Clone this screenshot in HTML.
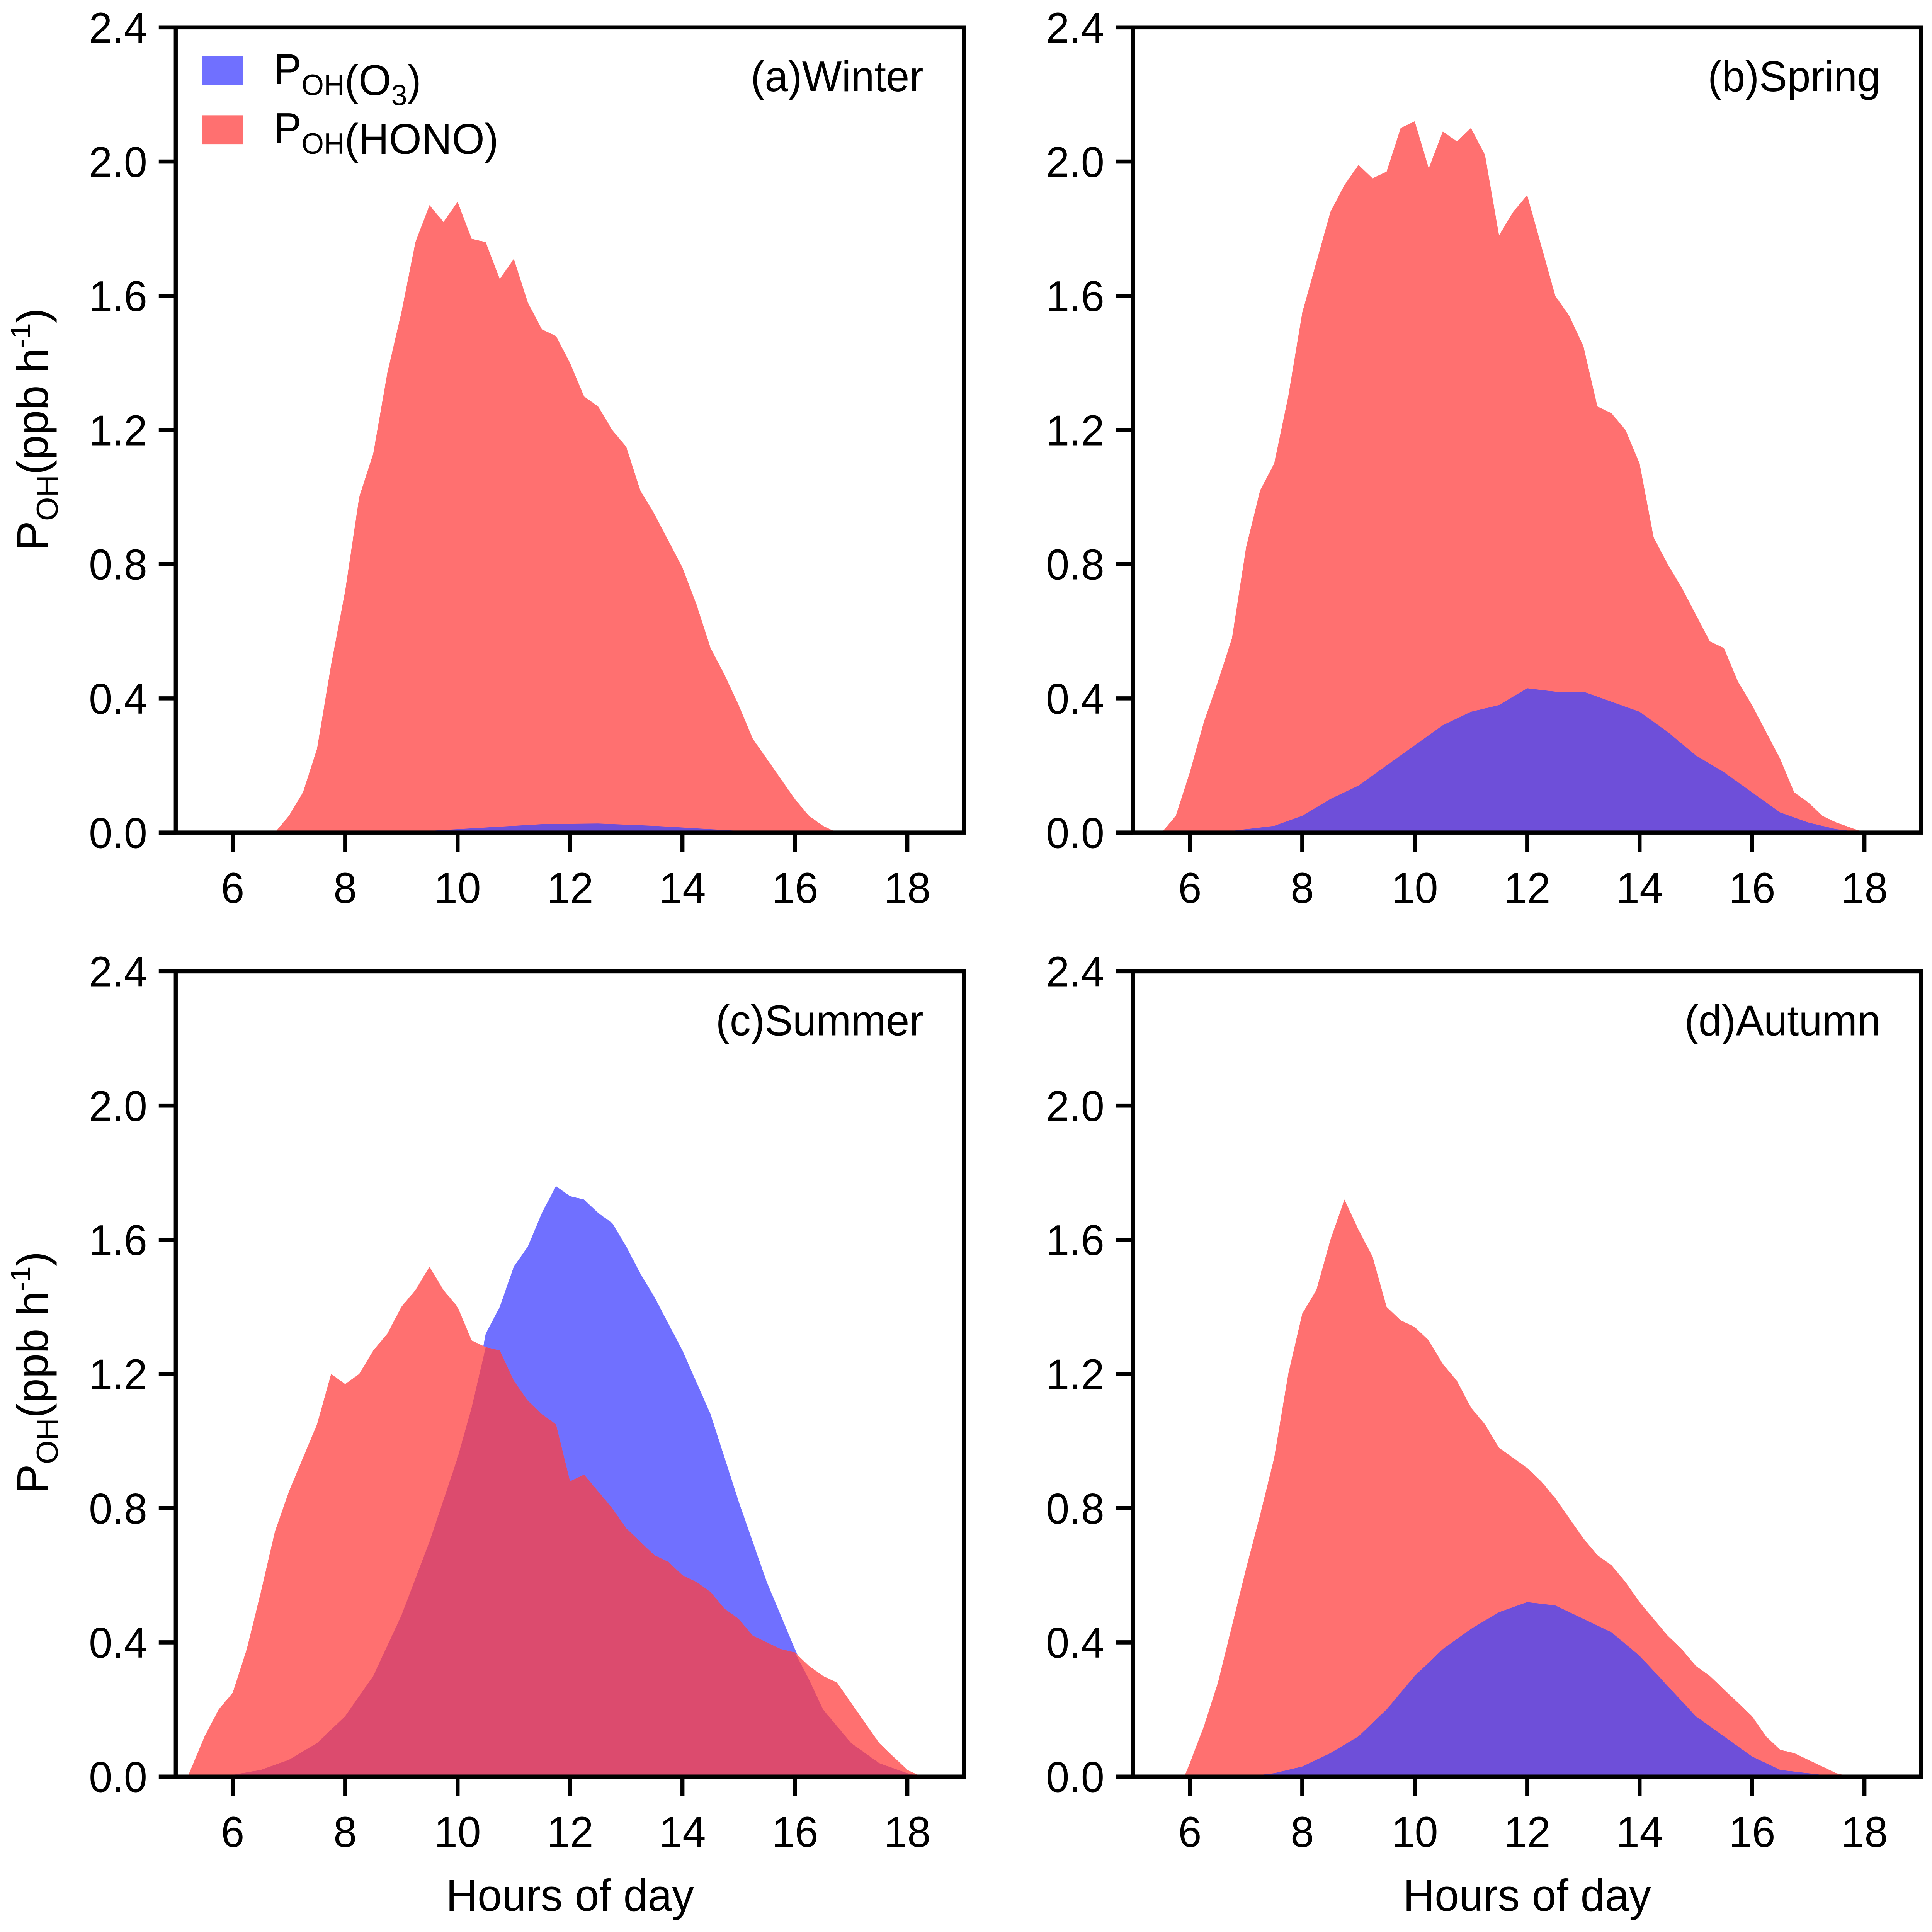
<!DOCTYPE html>
<html><head><meta charset="utf-8"><style>
html,body{margin:0;padding:0;background:#fff;width:100%;height:100%;overflow:hidden;}
svg{display:block;position:fixed;left:0;top:0;width:100vw;height:100vh;}
text{font-family:"Liberation Sans",Arial,sans-serif;fill:#000;}
</style></head><body>
<svg id="chart" viewBox="0 0 7729 7558" preserveAspectRatio="none" xmlns="http://www.w3.org/2000/svg" overflow="hidden">
<rect x="0" y="0" width="7729" height="7558" fill="#fff"/>
</svg>
<script>
// ---- data ----
const winterHonoHours=[6.75,7.0,7.25,7.5,7.75,8.0,8.25,8.5,8.75,9.0,9.25,9.5,9.75,10.0,10.25,10.5,10.75,11.0,11.25,11.5,11.75,12.0,12.25,12.5,12.75,13.0,13.25,13.5,13.75,14.0,14.25,14.5,14.75,15.0,15.25,15.5,15.75,16.0,16.25,16.5,16.75];
const winterHono=[0,0.05,0.12,0.25,0.5,0.72,1.0,1.13,1.37,1.55,1.76,1.87,1.82,1.88,1.77,1.76,1.65,1.71,1.58,1.5,1.48,1.4,1.3,1.27,1.2,1.15,1.02,0.95,0.87,0.79,0.68,0.55,0.47,0.38,0.28,0.22,0.16,0.1,0.05,0.02,0];
const winterO3Hours=[8.5,9.5,10.5,11.5,12.5,13.5,14.5,15.5];
const winterO3=[0,0.005,0.015,0.025,0.027,0.02,0.01,0];

const springHonoHours=[5.5,5.75,6.0,6.25,6.5,6.75,7.0,7.25,7.5,7.75,8.0,8.25,8.5,8.75,9.0,9.25,9.5,9.75,10.0,10.25,10.5,10.75,11.0,11.25,11.5,11.75,12.0,12.25,12.5,12.75,13.0,13.25,13.5,13.75,14.0,14.25,14.5,14.75,15.0,15.25,15.5,15.75,16.0,16.25,16.5,16.75,17.0,17.25,17.5,18.0];
const springHono=[0,0.05,0.18,0.33,0.45,0.58,0.85,1.02,1.1,1.3,1.55,1.7,1.85,1.93,1.99,1.95,1.97,2.1,2.12,1.98,2.09,2.06,2.1,2.02,1.78,1.85,1.9,1.75,1.6,1.54,1.45,1.27,1.25,1.2,1.1,0.88,0.8,0.73,0.65,0.57,0.55,0.45,0.38,0.3,0.22,0.12,0.09,0.05,0.03,0];
const springO3Hours=[6.5,7,7.5,8,8.5,9,9.5,10,10.5,11,11.5,12,12.5,13,13.5,14,14.5,15,15.5,16,16.5,17,17.5,18];
const springO3=[0,0.01,0.02,0.05,0.1,0.14,0.2,0.26,0.32,0.36,0.38,0.43,0.42,0.42,0.39,0.36,0.3,0.23,0.18,0.12,0.06,0.03,0.01,0];

const summerO3Hours=[5.5,6,6.5,7,7.5,8,8.5,9,9.5,10,10.25,10.5,10.75,11,11.25,11.5,11.75,12,12.25,12.5,12.75,13,13.25,13.5,13.75,14,14.5,15,15.5,16,16.5,17,17.5,18,18.25];
const summerO3=[0,0.005,0.02,0.05,0.1,0.18,0.3,0.48,0.7,0.95,1.1,1.32,1.4,1.52,1.58,1.68,1.76,1.73,1.72,1.68,1.65,1.58,1.5,1.43,1.35,1.27,1.08,0.82,0.58,0.38,0.2,0.1,0.04,0.01,0];
const summerHonoHours=[5.2,5.5,5.75,6.0,6.25,6.5,6.75,7.0,7.25,7.5,7.75,8.0,8.25,8.5,8.75,9.0,9.25,9.5,9.75,10.0,10.25,10.5,10.75,11.0,11.25,11.5,11.75,12.0,12.25,12.5,12.75,13.0,13.25,13.5,13.75,14.0,14.25,14.5,14.75,15.0,15.25,15.5,15.75,16.0,16.25,16.5,16.75,17.0,17.25,17.5,17.75,18.0,18.25];
const summerHono=[0,0.12,0.2,0.25,0.38,0.55,0.73,0.85,0.95,1.05,1.2,1.17,1.2,1.27,1.32,1.4,1.45,1.52,1.45,1.4,1.3,1.28,1.27,1.18,1.12,1.08,1.05,0.88,0.9,0.85,0.8,0.74,0.7,0.66,0.64,0.6,0.58,0.55,0.5,0.47,0.42,0.4,0.38,0.37,0.33,0.3,0.28,0.22,0.16,0.1,0.06,0.02,0];

const autumnHonoHours=[5.9,6.0,6.25,6.5,6.75,7.0,7.25,7.5,7.75,8.0,8.25,8.5,8.75,9.0,9.25,9.5,9.75,10.0,10.25,10.5,10.75,11.0,11.25,11.5,11.75,12.0,12.25,12.5,12.75,13.0,13.25,13.5,13.75,14.0,14.25,14.5,14.75,15.0,15.25,15.5,15.75,16.0,16.25,16.5,16.75,17.0,17.25,17.5,17.75];
const autumnHono=[0,0.04,0.15,0.28,0.45,0.62,0.78,0.95,1.2,1.38,1.45,1.6,1.72,1.63,1.55,1.4,1.36,1.34,1.3,1.23,1.18,1.1,1.05,0.98,0.95,0.92,0.88,0.83,0.77,0.71,0.66,0.63,0.58,0.52,0.47,0.42,0.38,0.33,0.3,0.26,0.22,0.18,0.12,0.08,0.07,0.05,0.03,0.01,0];
const autumnO3Hours=[7,7.5,8,8.5,9,9.5,10,10.5,11,11.5,12,12.5,13,13.5,14,14.5,15,15.5,16,16.5,17,17.5];
const autumnO3=[0,0.01,0.03,0.07,0.12,0.2,0.3,0.38,0.44,0.49,0.52,0.51,0.47,0.43,0.36,0.27,0.18,0.12,0.06,0.02,0.01,0];

const yTicks=[0,0.4,0.8,1.2,1.6,2.0,2.4];
const yTickLabels=["0.0","0.4","0.8","1.2","1.6","2.0","2.4"];
const xTicks=[6,8,10,12,14,16,18];

// ---- drawing ----
const NS="http://www.w3.org/2000/svg";
const svg=document.getElementById('chart');
function mk(tag,attrs,parent){const e=document.createElementNS(NS,tag);for(const k in attrs)e.setAttribute(k,attrs[k]);(parent||svg).appendChild(e);return e;}
const RED="#ff7070",BLUE="#7070ff",PURPLE="#6e4fd9",OVER="#dc4b6e";

function panel(name,L,T,label,sets,showX){
  const R=L+3154,B=T+3150;
  const g=mk('g',{});
  
  
  const xs=h=>931+(L-703)+(h-6)*224.9;
  const ys=v=>B-v*(B-T)/2.4;
  function area(hrs,vals,color,nm){
    let d='M'+xs(hrs[0])+','+ys(0);
    for(let i=0;i<hrs.length;i++)d+=' L'+xs(hrs[i]).toFixed(1)+','+ys(vals[i]).toFixed(1);
    d+=' L'+xs(hrs[hrs.length-1])+','+ys(0)+' Z';
    const p=mk('path',{d:d,fill:color},g);
    
    
  }
  sets(area);
  const frame=mk('rect',{x:L,y:T,width:R-L,height:B-T,fill:'none',stroke:'#000','stroke-width':16},g);
  
  
  yTicks.forEach((v,i)=>{
    mk('line',{x1:L-68,x2:L,y1:ys(v),y2:ys(v),stroke:'#000','stroke-width':16},g);
    const t=mk('text',{x:L-114,y:ys(v)+60,'font-size':168,'text-anchor':'end'},g);
    t.textContent=yTickLabels[i];
    
    
  });
  xTicks.forEach(h=>{
    mk('line',{x1:xs(h),x2:xs(h),y1:B,y2:B+75,stroke:'#000','stroke-width':16},g);
    const t=mk('text',{x:xs(h),y:B+275,'font-size':168,'text-anchor':'middle'},g);
    t.textContent=String(h);
    
    
  });
  const pl=mk('text',{x:R-163,y:T+250,'font-size':168,'text-anchor':'end'},g);
  pl.textContent=label;
  
  
  if(showX){
    const xt=mk('text',{x:(L+R)/2,y:B+525,'font-size':175,'text-anchor':'middle'},g);
    xt.textContent='Hours of day';
    
    
  }
  return {xs,ys,g};
}

function minSeries(h1,v1,h2,v2){
  const all=[...new Set([...h1,...h2])].sort((a,b)=>a-b);
  const interp=(hs,vs,x)=>{if(x<=hs[0]||x>=hs[hs.length-1])return 0;for(let i=1;i<hs.length;i++)if(x<=hs[i]){const f=(x-hs[i-1])/(hs[i]-hs[i-1]);return vs[i-1]+f*(vs[i]-vs[i-1]);}return 0;};
  return {h:all,v:all.map(x=>Math.min(interp(h1,v1,x),interp(h2,v2,x)))};
}

panel('panel-winter',703,107,'(a)Winter',area=>{area(winterHonoHours,winterHono,RED,'winter-hono-area');area(winterO3Hours,winterO3,PURPLE,'winter-o3-area');},false);
panel('panel-spring',4532,107,'(b)Spring',area=>{area(springHonoHours,springHono,RED,'spring-hono-area');area(springO3Hours,springO3,PURPLE,'spring-o3-area');},false);
panel('panel-summer',703,3800,'(c)Summer',area=>{area(summerO3Hours,summerO3,BLUE,'summer-o3-area');area(summerHonoHours,summerHono,RED,'summer-hono-area');const m=minSeries(summerO3Hours,summerO3,summerHonoHours,summerHono);area(m.h,m.v,OVER,'summer-overlap-area');},true);
panel('panel-autumn',4532,3800,'(d)Autumn',area=>{area(autumnHonoHours,autumnHono,RED,'autumn-hono-area');area(autumnO3Hours,autumnO3,PURPLE,'autumn-o3-area');},true);

[1680,5370].forEach((cy,i)=>{
  const t=mk('text',{x:0,y:0,'font-size':175,'text-anchor':'middle',transform:'translate(190,'+cy+') rotate(-90)'});
  t.innerHTML='P<tspan font-size="120" dy="40">OH</tspan><tspan dy="-40">(ppb h</tspan><tspan font-size="110" dy="-70">-1</tspan><tspan dy="70">)</tspan>';
  
  
});

const lg=mk('g',{});


[[BLUE,220,329,'(O<tspan font-size="115" dy="40">3</tspan><tspan dy="-40">)</tspan>','legend-entry-o3'],[RED,451,559,'(HONO)','legend-entry-hono']].forEach(e=>{
  const r=mk('rect',{x:807,y:e[1],width:165,height:113,fill:e[0]},lg);
  
  
  const t=mk('text',{x:1094,y:e[2],'font-size':168},lg);
  t.innerHTML='P<tspan font-size="115" dy="43">OH</tspan><tspan dy="-43"></tspan>'+e[3];
  
  
});
</script>
</body></html>
